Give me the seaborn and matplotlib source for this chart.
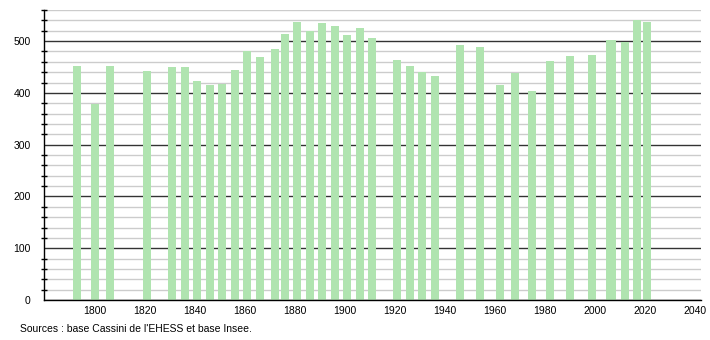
import matplotlib
matplotlib.use("Agg")
import matplotlib.pyplot as plt
import seaborn as sns
import pandas as pd
from matplotlib.ticker import MultipleLocator

years = [1793, 1800, 1806, 1821, 1831, 1836, 1841, 1846, 1851, 1856, 1861, 1866,
         1872, 1876, 1881, 1886, 1891, 1896, 1901, 1906, 1911, 1921, 1926, 1931,
         1936, 1946, 1954, 1962, 1968, 1975, 1982, 1990, 1999, 2006, 2007, 2012,
         2017, 2021]
population = [452, 379, 452, 442, 450, 450, 423, 415, 417, 444, 480, 470,
              485, 513, 536, 519, 534, 530, 512, 526, 506, 463, 451, 441,
              432, 493, 488, 416, 438, 404, 461, 471, 473, 502, 502, 499,
              540, 536]
x_ticks = [1800, 1820, 1840, 1860, 1880, 1900, 1920, 1940, 1960, 1980, 2000, 2020, 2040]
y_ticks = [0, 100, 200, 300, 400, 500]
source_text = "Sources : base Cassini de l'EHESS et base Insee."

df = pd.DataFrame({"year": years, "population": population})

sns.set_style("white")
plt.rcParams['font.family'] = ['Liberation Sans', 'DejaVu Sans']

fig = plt.figure(figsize=(7.1, 3.4), dpi=100)
ax = fig.add_axes([44 / 710, 40 / 340, (701 - 44) / 710, (300 - 10) / 340])

ax.set_axisbelow(True)
sns.barplot(data=df, x="year", y="population", native_scale=True, width=3.2,
            color="#b0e4b0", saturation=1, linewidth=0, ax=ax, errorbar=None)

ax.set_xlim(1779.8, 2042.4)
ax.set_ylim(0, 560)
ax.set_xticks(x_ticks)
ax.set_xticklabels([str(t) for t in x_ticks])
ax.set_yticks(y_ticks)
ax.yaxis.set_minor_locator(MultipleLocator(20))

ax.grid(axis="y", which="major", color="#333333", linewidth=1.0)
ax.grid(axis="y", which="minor", color="#cccccc", linewidth=1.0)
ax.grid(axis="x", visible=False)

for s in ["top", "right"]:
    ax.spines[s].set_visible(False)
ax.spines["left"].set_color("black")
ax.spines["bottom"].set_color("black")
ax.spines["left"].set_linewidth(1.0)
ax.spines["bottom"].set_linewidth(1.0)

ax.tick_params(axis="y", which="major", direction="inout", length=7, width=1,
               labelsize=7.5, pad=6, colors="black")
ax.tick_params(axis="y", which="minor", direction="inout", length=4, width=1,
               left=True, colors="black")
ax.tick_params(axis="x", which="both", length=0, labelsize=7.5, pad=4, colors="black")
ax.set_xlabel("")
ax.set_ylabel("")

fig.text(20 / 710, 1 - 329 / 340, source_text, fontsize=7.5, va="center", ha="left",
         color="black")

fig.savefig("out.png", dpi=100)
